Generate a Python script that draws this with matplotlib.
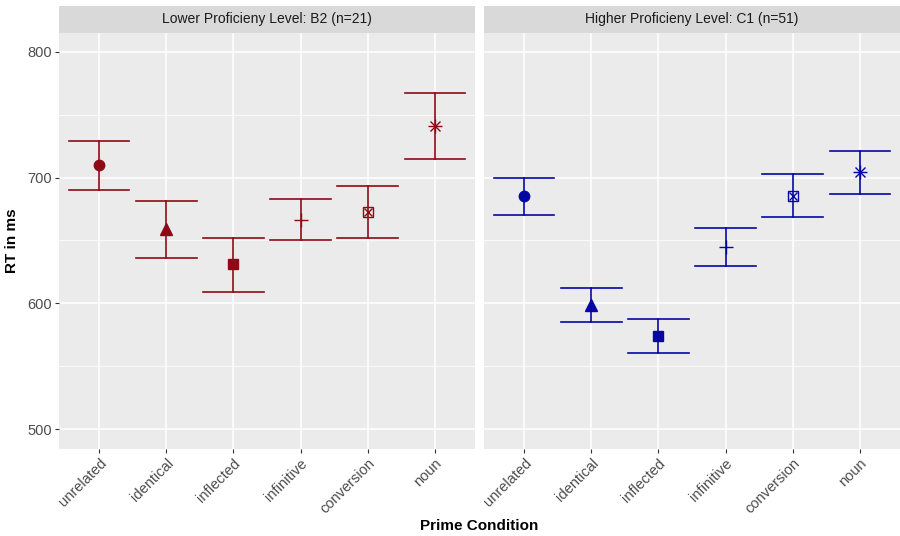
import numpy as np
import matplotlib.pyplot as plt
from matplotlib.ticker import MultipleLocator

conditions = ['unrelated', 'identical', 'inflected', 'infinitive', 'conversion', 'noun']
panel_titles = ['Lower Proficieny Level: B2 (n=21)', 'Higher Proficieny Level: C1 (n=51)']

# means and CI bounds
b2_mean = [710, 659, 631, 666, 673, 741]
b2_upper = [729, 681, 652, 683, 693, 767]
b2_lower = [690, 636, 609, 650, 652, 715]

c1_mean = [685, 599, 574, 645, 685, 704]
c1_upper = [700, 612, 588, 660, 703, 721]
c1_lower = [670, 585, 561, 630, 669, 687]

colors = ['#8E0A16', '#0606A4']

plt.rcParams['font.family'] = ['Liberation Sans', 'DejaVu Sans']

fig = plt.figure(figsize=(9, 5.36), dpi=100)
W, H = 900, 536
panels = [(59, b2_mean, b2_upper, b2_lower), (484, c1_mean, c1_upper, c1_lower)]


def draw_marker(ax, x, y, kind, col):
    if kind == 0:
        ax.plot(x, y, 'o', color=col, ms=7.5, zorder=4)
    elif kind == 1:
        ax.plot(x, y, '^', color=col, ms=8, zorder=4)
    elif kind == 2:
        ax.plot(x, y, 's', color=col, ms=7, zorder=4)
    elif kind == 3:
        ax.plot(x, y, '+', color=col, ms=10, mew=1.0, zorder=4)
    elif kind == 4:
        ax.plot(x, y, 's', color=col, ms=7.5, mfc='none', mew=1.0, zorder=4)
        ax.plot(x, y, 'x', color=col, ms=5.5, mew=1.0, zorder=4)
    else:
        ax.plot(x, y, '+', color=col, ms=10, mew=1.0, zorder=4)
        ax.plot(x, y, 'x', color=col, ms=7.5, mew=1.0, zorder=4)


for i, (left, mean, upper, lower) in enumerate(panels):
    ax = fig.add_axes([left / W, 1 - 449 / H, 416 / W, 416 / H])
    ax.set_facecolor('#EBEBEB')
    for s in ax.spines.values():
        s.set_visible(False)
    ax.set_xlim(0.4, 6.6)
    ax.set_ylim(484.5, 814.7)
    ax.yaxis.set_major_locator(MultipleLocator(100))
    ax.yaxis.set_minor_locator(MultipleLocator(50))
    ax.grid(which='major', color='white', lw=1.1, zorder=0)
    ax.grid(which='minor', axis='y', color='white', lw=0.55, zorder=0)
    ax.set_axisbelow(True)
    ax.tick_params(which='minor', length=0)
    ax.tick_params(which='major', length=3, color='#333333', labelsize=10.5,
                   labelcolor='#4D4D4D', pad=2)

    x = np.arange(1, len(conditions) + 1)
    col = colors[i]
    for j in range(len(conditions)):
        ax.plot([x[j], x[j]], [lower[j], upper[j]], color=col, lw=1.2, zorder=3)
        ax.plot([x[j] - 0.45, x[j] + 0.45], [upper[j], upper[j]], color=col, lw=1.2, zorder=3)
        ax.plot([x[j] - 0.45, x[j] + 0.45], [lower[j], lower[j]], color=col, lw=1.2, zorder=3)
        draw_marker(ax, x[j], mean[j], j, col)

    ax.set_xticks(x)
    ax.set_xticklabels(conditions, rotation=45, ha='right', rotation_mode='anchor')
    if i == 0:
        ax.set_yticks([500, 600, 700, 800])
        ax.set_ylabel('RT in ms', fontsize=11, fontweight='bold', labelpad=6)
    else:
        ax.tick_params(axis='y', which='both', left=False, labelleft=False)

    strip = fig.add_axes([left / W, 1 - 33 / H, 416 / W, 27 / H])
    strip.set_facecolor('#D9D9D9')
    strip.set_xticks([])
    strip.set_yticks([])
    for s in strip.spines.values():
        s.set_visible(False)
    strip.text(0.5, 0.5, panel_titles[i], ha='center', va='center',
               fontsize=10, color='#1A1A1A', transform=strip.transAxes)

fig.text((59 + 900) / 2 / W, 1 - 526 / H, 'Prime Condition', ha='center', va='center',
         fontsize=11, fontweight='bold')

fig.savefig('out.png', dpi=100)
